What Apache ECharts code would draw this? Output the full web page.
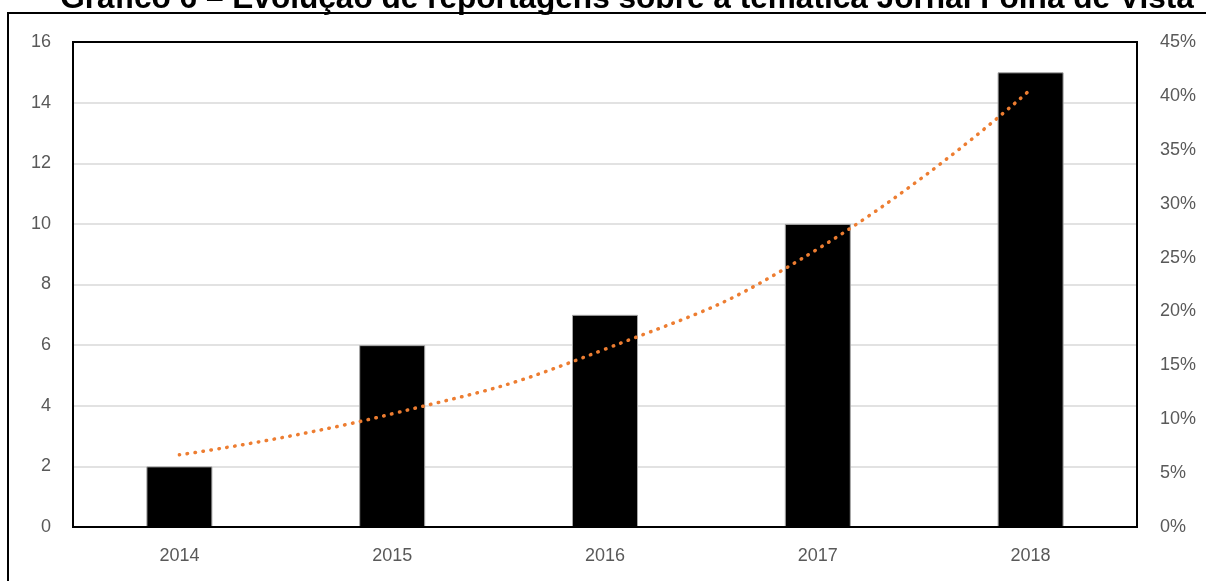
<!DOCTYPE html>
<html>
<head>
<meta charset="utf-8">
<script src="https://cdn.jsdelivr.net/npm/echarts@6/dist/echarts.min.js"></script>
<style>
html,body{margin:0;padding:0;background:#fff;}
#chart{width:1206px;height:581px;}
</style>
</head>
<body>
<div id="chart"></div>
<script>
const titleText = 'Gráfico 6 – Evolução de reportagens sobre a temática Jornal Folha de Vista';
const categories = ['2014', '2015', '2016', '2017', '2018'];
const reportagens = [2, 6, 7, 10, 15];
// exponential trend line (secondary axis, percent)
const tendencia = [6.7, 10.5, 16.5, 25.8, 40.6];
const leftTicks = {min: 0, max: 16, interval: 2};
const rightTicks = {min: 0, max: 45, interval: 5};

const chart = echarts.init(document.getElementById('chart'));
const labelStyle = {color: '#595959', fontSize: 18, fontFamily: 'Liberation Sans'};
chart.setOption({
  animation: false,
  backgroundColor: '#fff',
  graphic: [
    {type: 'rect', shape: {x: 8, y: 13, width: 1220, height: 600}, style: {fill: 'none', stroke: '#000', lineWidth: 2}, z: 0},
    {type: 'text', style: {text: titleText, x: 627, y: 15, textAlign: 'center', textVerticalAlign: 'bottom',
      fontFamily: 'Liberation Sans', fontWeight: 'bold', fontSize: 31.6, fill: '#000'}, z: 10}
  ],
  grid: {left: 73, top: 42, right: 69, bottom: 54, show: true, borderColor: '#000', borderWidth: 2, backgroundColor: 'transparent', z: 5},
  xAxis: {
    type: 'category', data: categories,
    axisLine: {show: false}, axisTick: {show: false},
    axisLabel: Object.assign({margin: 20}, labelStyle)
  },
  yAxis: [
    {type: 'value', min: leftTicks.min, max: leftTicks.max, interval: leftTicks.interval,
      axisLine: {show: false}, axisTick: {show: false},
      axisLabel: Object.assign({margin: 22}, labelStyle),
      splitLine: {lineStyle: {color: '#d9d9d9', width: 1.5}}},
    {type: 'value', min: rightTicks.min, max: rightTicks.max, interval: rightTicks.interval,
      axisLine: {show: false}, axisTick: {show: false},
      axisLabel: Object.assign({margin: 23, formatter: '{value}%'}, labelStyle),
      splitLine: {show: false}}
  ],
  series: [
    {type: 'bar', data: reportagens, barWidth: 66,
      itemStyle: {color: '#000', borderColor: '#a6a6a6', borderWidth: 1}},
    {type: 'line', yAxisIndex: 1, data: tendencia, smooth: true, showSymbol: false, symbol: 'none',
      lineStyle: {color: '#ED7D31', width: 3.5, type: [0.5, 7.5], cap: 'round'}, z: 6}
  ]
});
</script>
</body>
</html>
